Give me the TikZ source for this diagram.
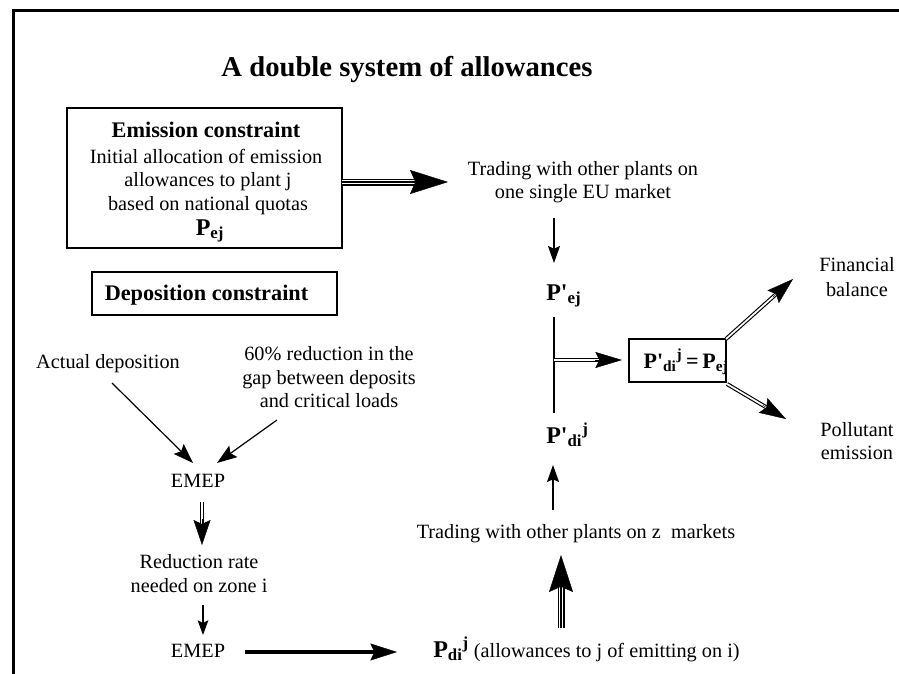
\documentclass[tikz,border=0pt]{standalone}
\usepackage{fontspec}
\setmainfont{Liberation Serif}[Ligatures=TeXOff]
\usetikzlibrary{arrows.meta,calc}
\newcommand\myprime{'}
\newcommand\myhead[5]{% from, to, length, width, inset
  \draw[line width=0.3pt, -{Stealth[length=#3,width=#4,inset=#5]}] ($(#2)!#3+0.4pt!(#1)$) -- (#2);}
\tikzset{
  txt/.style={inner sep=0pt, anchor=base, font=\fontsize{15.2}{18}\selectfont},
  hdr/.style={inner sep=0pt, anchor=base, font=\fontsize{16.7}{20}\selectfont\bfseries},
  sym/.style={inner sep=0pt, anchor=base west, font=\fontsize{18}{20}\selectfont\bfseries},
  box/.style={draw, line width=1pt, inner sep=0pt},
  frameline/.style={line width=2.25pt},
  thinarr/.style={line width=0.9pt, -{Stealth[length=12.75pt,width=9pt,inset=2pt]}},
  dbl/.style={draw=black, double=white, line width=0.85pt, double distance=1.3pt},
  tripbig/.style={line width=5.25pt, postaction={draw=white, double=black, line width=0.9pt, double distance=1.2pt}},
  tripsmall/.style={line width=3.3pt, postaction={draw=white, double=black, line width=0.7pt, double distance=0.8pt}},
}
\begin{document}
\begin{tikzpicture}[x=0.75pt,y=-0.75pt]
\useasboundingbox (0,0) rectangle (899,674);
% frame
\coordinate (fr1) at (13,674);
\coordinate (fr2) at (13,11);
\coordinate (fr3) at (899,11);
\draw[frameline] (fr1) -- (fr2) -- (fr3);

% title
\node[inner sep=0pt, anchor=base, font=\fontsize{21.5}{24}\selectfont\bfseries] (title) at (407,77) {A double system of allowances};

% emission box
\node[box, minimum width=206.25pt, minimum height=105pt] (ebox) at (204.5,178) {};
\node[hdr] (e1) at (206,137) {Emission constraint};
\node[txt] (e2) at (206,163) {Initial allocation of emission};
\node[txt] (e3) at (208,186) {allowances to plant j};
\node[txt] (e4) at (208,210) {based on national quotas};
\node[inner sep=0pt, anchor=base, font=\fontsize{18}{20}\selectfont\bfseries] (e5) at (210,235) {P\textsubscript{ej}};

% deposition box
\node[box, minimum width=183.75pt, minimum height=32.25pt] (dbox) at (214.5,293.5) {};
\node[hdr] (d1) at (206.5,300) {Deposition constraint};

% trading EU
\node[txt] (t1) at (583,175) {Trading with other plants on};
\node[txt] (t2) at (583,198) {one single EU market};

% P'ej and P'di
\node[sym] (pej) at (546,300) {P\myprime\textsubscript{ej}};
\node[sym] (pdi) at (546,443) {P\myprime\textsubscript{di}\textsuperscript{j}};

% equality box
\node[box, minimum width=72.75pt, minimum height=32.25pt] (eqbox) at (677.5,360.5) {};
\node[inner sep=0pt, anchor=base, font=\fontsize{16.5}{20}\selectfont\bfseries] (eqt) at (686,368) {P\myprime\textsubscript{di}\textsuperscript{j}\,=\,P\textsubscript{ej}};

% outcomes
\node[txt] (fin1) at (857,271) {Financial};
\node[txt] (fin2) at (857,296) {balance};
\node[txt] (pol1) at (857,436) {Pollutant};
\node[txt] (pol2) at (857,459) {emission};

% deposition chain
\node[txt] (act) at (108,368) {Actual deposition};
\node[txt] (g1) at (329,360) {60\% reduction in the};
\node[txt] (g2) at (329,384) {gap between deposits};
\node[txt] (g3) at (329,407) {and critical loads};
\node[txt] (emep1) at (198,487) {EMEP};
\node[txt] (red1) at (199,568) {Reduction rate};
\node[txt] (red2) at (199,592) {needed on zone i};
\node[txt] (emep2) at (198,657) {EMEP};
\node[inner sep=0pt, anchor=base west, font=\fontsize{15.2}{18}\selectfont] (pbot) at (433,657) {{\fontsize{18}{20}\selectfont\bfseries P\textsubscript{di}\textsuperscript{j}} (allowances to j of emitting on i)};
\node[txt] (tz) at (576,538) {Trading with other plants on z\ \ markets};

% ---- connectors ----
% A1 emission box -> trading EU
\coordinate (a1s) at (342,182);
\coordinate (a1t) at (448,182);
\draw[tripbig] (a1s) -- ($(a1t)!22pt!(a1s)$);
\myhead{a1s}{a1t}{28.5pt}{18pt}{4pt}

% A2 trading -> P'ej
\coordinate (a2s) at (554,218);
\coordinate (a2t) at (554,263);
\draw[thinarr] (a2s) -- (a2t);

% vertical bar between P'ej and P'di
\coordinate (vb1) at (554,317);
\coordinate (vb2) at (554,413);
\coordinate (vbm) at (554,360);
\draw[line width=1pt] (vb1) -- (vb2);

% A3 bar -> equality box
\coordinate (a3t) at (622,360);
\draw[dbl] (vbm) -- ($(a3t)!15pt!(vbm)$);
\myhead{vbm}{a3t}{20pt}{12pt}{3pt}

% A4 trading z -> P'di
\coordinate (a4s) at (553,510);
\coordinate (a4t) at (553,465);
\draw[thinarr] (a4s) -- (a4t);

% A5 Pdi -> trading z
\coordinate (a5s) at (561,628);
\coordinate (a5t) at (561,555);
\draw[tripbig] (a5s) -- ($(a5t)!22pt!(a5s)$);
\myhead{a5s}{a5t}{27.75pt}{18pt}{4pt}

% A6 EMEP -> Pdi
\coordinate (a6s) at (245,652);
\coordinate (a6t) at (397,652);
\draw[tripsmall] (a6s) -- ($(a6t)!15pt!(a6s)$);
\myhead{a6s}{a6t}{20pt}{12.75pt}{3pt}

% A7 EMEP -> reduction rate
\coordinate (a7s) at (202,502);
\coordinate (a7t) at (202,545);
\draw[dbl] (a7s) -- ($(a7t)!14pt!(a7s)$);
\myhead{a7s}{a7t}{18.75pt}{12.75pt}{3pt}

% A8 reduction -> EMEP
\coordinate (a8s) at (203,605);
\coordinate (a8t) at (203,635);
\draw[line width=0.9pt, -{Stealth[length=11pt,width=8pt,inset=2pt]}] (a8s) -- (a8t);

% A9, A10 to EMEP
\coordinate (a9s) at (112,383);
\coordinate (a9t) at (193,463);
\draw[line width=0.9pt, -{Stealth[length=15pt,width=10.5pt,inset=2.5pt]}] (a9s) -- (a9t);
\coordinate (a10s) at (277,420);
\coordinate (a10t) at (217,463);
\draw[line width=0.9pt, -{Stealth[length=15pt,width=10.5pt,inset=2.5pt]}] (a10s) -- (a10t);

% A11, A12 from equality box
\coordinate (a11s) at (726,339);
\coordinate (a11t) at (793,279);
\draw[dbl] (a11s) -- ($(a11t)!15pt!(a11s)$);
\myhead{a11s}{a11t}{20pt}{12.75pt}{3pt}
\coordinate (a12s) at (727,384);
\coordinate (a12t) at (786,419);
\draw[dbl] (a12s) -- ($(a12t)!15pt!(a12s)$);
\myhead{a12s}{a12t}{20pt}{12.75pt}{3pt}
\end{tikzpicture}
\end{document}
